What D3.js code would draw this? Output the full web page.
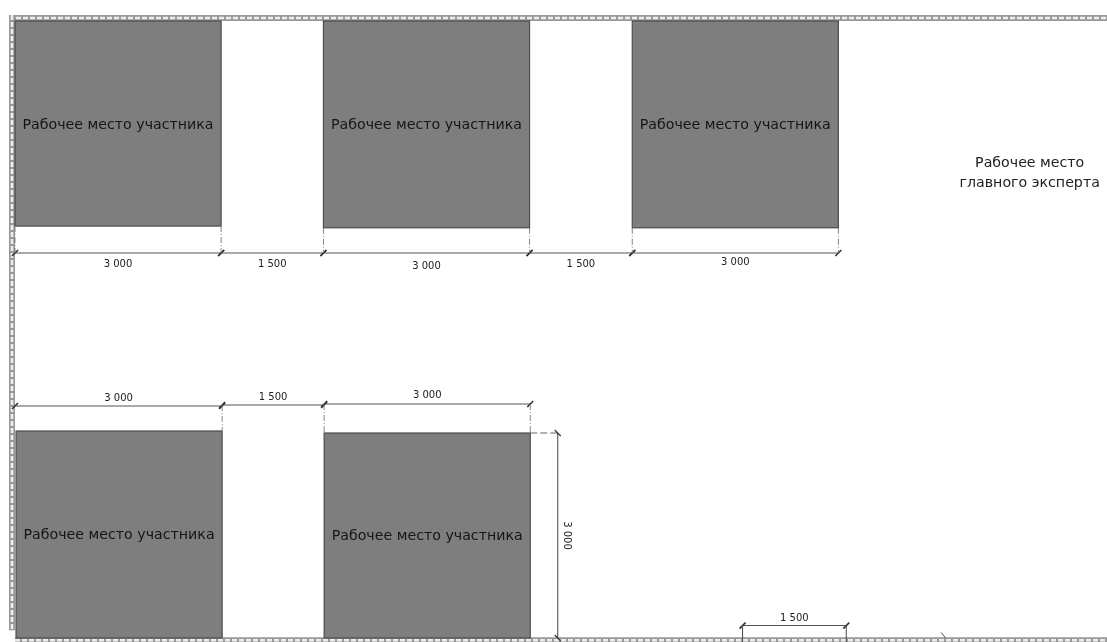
<!DOCTYPE html>
<html>
<head>
<meta charset="utf-8">
<script src="https://cdn.jsdelivr.net/npm/d3@7"></script>
<style>
html, body { margin: 0; padding: 0; background: #fff; }
svg { display: block; }
text { font-family: "DejaVu Sans", sans-serif; }
</style>
</head>
<body>
<svg id="plan"></svg>
<script>
//plan values, all in mm
var stationX = [0, 4490, 8985, 15, 4500];
var stationY = [0, 0, 0, 5968, 5997];
var stationW = [3000, 3000, 3000, 3000, 3000];
var stationH = [2985, 3010, 3010, 3013, 2984];
var stationName = "Рабочее место участника";
var expertName = ["Рабочее место", "главного эксперта"];
var expertX = 14770;
var expertY = [2125, 2416];

var dimStart = [0, 3000, 4490, 7490, 8985, 0, 3015, 4500, 10590];
var dimEnd = [3000, 4490, 7490, 8985, 11985, 3015, 4500, 7500, 12100];
var dimY = [3377, 3377, 3377, 3377, 3377, 5604, 5590, 5575, 8800];
var dimValue = [3000, 1500, 3000, 1500, 3000, 3000, 1500, 3000, 1500];
var dimLabelY = [3530, 3530, 3565, 3530, 3515, 5490, 5475, 5450, 8685];

var sideX = 7900;
var sideTop = 5997;
var sideBottom = 8981;
var sideValue = 3000;

//layout conf.
var svgWidth = 1107,
    svgHeight = 642,
    origin = {x: 15, y: 21},
    mmScale = 0.0687;

var x = d3.scaleLinear().domain([0, 16000]).range([origin.x, origin.x + 16000*mmScale]);
var y = d3.scaleLinear().domain([0, 9000]).range([origin.y, origin.y + 9000*mmScale]);

var spaced = d3.formatLocale({decimal: ",", thousands: " ", grouping: [3], currency: ["", ""]}).format(",");

var svg = d3.select("#plan")
    .attr("width", svgWidth)
    .attr("height", svgHeight);

//the source is a soft scan, a small blur brings the edges closer
svg.append("defs").append("filter")
    .attr("id", "soft")
    .append("feGaussianBlur")
    .attr("stdDeviation", 0.55);

var drawing = svg.append("g").attr("filter", "url(#soft)");

drawWalls();
drawStations();
drawDimensions();
drawSideDimension();
drawExpert();

function drawWalls() {
    var walls = drawing.append("g").classed("walls", true);
    var top = y(0) - 3;
    var left = x(0) - 3;
    var bottom = y(8985) + 2;

    wall(walls, left - 3, top, svgWidth, top);
    wall(walls, left, top - 3, left, y(8870));
    wall(walls, x(0), bottom, svgWidth, bottom);
}

function wall(parent, x1, y1, x2, y2) {
    parent.append("line")
        .attr("x1", x1).attr("y1", y1).attr("x2", x2).attr("y2", y2)
        .attr("stroke", "#999")
        .attr("stroke-width", 6);
    parent.append("line")
        .attr("x1", x1).attr("y1", y1).attr("x2", x2).attr("y2", y2)
        .attr("stroke", "#eee")
        .attr("stroke-width", 2.6)
        .attr("stroke-dasharray", "5 2");
}

function drawStations() {
    var stations = drawing.append("g").classed("stations", true)
        .selectAll("g")
        .data(stationX)
        .enter()
        .append("g");

    stations.append("rect")
        .attr("x", function(d){ return x(d); })
        .attr("y", function(d, i){ return y(stationY[i]); })
        .attr("width", function(d, i){ return x(stationW[i]) - x(0); })
        .attr("height", function(d, i){ return y(stationH[i]) - y(0); })
        .attr("fill", "#7e7e7e")
        .attr("stroke", "#4d4d4d")
        .attr("stroke-width", 1.2);

    stations.append("text")
        .attr("x", function(d, i){ return x(d + stationW[i]/2); })
        .attr("y", function(d, i){ return y(stationY[i] + stationH[i]/2) + 5; })
        .attr("text-anchor", "middle")
        .attr("font-size", 14.2)
        .attr("fill", "#161616")
        .text(stationName);
}

function drawDimensions() {
    var dims = drawing.append("g").classed("dimensions", true)
        .selectAll("g")
        .data(dimStart)
        .enter()
        .append("g");

    dims.append("line")
        .attr("x1", function(d){ return x(d); })
        .attr("x2", function(d, i){ return x(dimEnd[i]); })
        .attr("y1", function(d, i){ return y(dimY[i]); })
        .attr("y2", function(d, i){ return y(dimY[i]); })
        .attr("stroke", "#555")
        .attr("stroke-width", 1.1);

    //the slash marks on both ends
    [dimStart, dimEnd].forEach(function(ends) {
        dims.append("line")
            .attr("x1", function(d, i){ return x(ends[i]) - 3; })
            .attr("x2", function(d, i){ return x(ends[i]) + 3; })
            .attr("y1", function(d, i){ return y(dimY[i]) + 3; })
            .attr("y2", function(d, i){ return y(dimY[i]) - 3; })
            .attr("stroke", "#333")
            .attr("stroke-width", 1.6);
    });

    dims.append("text")
        .attr("x", function(d, i){ return x((d + dimEnd[i])/2); })
        .attr("y", function(d, i){ return y(dimLabelY[i]) + 3; })
        .attr("text-anchor", "middle")
        .attr("font-size", 10)
        .attr("fill", "#222")
        .text(function(d, i){ return spaced(dimValue[i]); });

    //dashed extension lines between the desks and the dimension lines
    var extTop = [0, 3000, 4490, 7490, 8985, 11985];
    var extFrom = [2985, 2985, 3010, 3010, 3010, 3010];
    drawing.append("g").selectAll("line")
        .data(extTop)
        .enter()
        .append("line")
        .attr("x1", function(d){ return x(d); })
        .attr("x2", function(d){ return x(d); })
        .attr("y1", function(d, i){ return y(extFrom[i]); })
        .attr("y2", y(3377))
        .attr("stroke", "#777")
        .attr("stroke-dasharray", "6 2 1 2")
        .attr("stroke-width", 0.9);

    var extLow = [3015, 4500, 7500];
    var extLowTop = [5590, 5575, 5575];
    drawing.append("g").selectAll("line")
        .data(extLow)
        .enter()
        .append("line")
        .attr("x1", function(d){ return x(d); })
        .attr("x2", function(d){ return x(d); })
        .attr("y1", function(d, i){ return y(extLowTop[i]); })
        .attr("y2", y(5997))
        .attr("stroke", "#777")
        .attr("stroke-dasharray", "6 2 1 2")
        .attr("stroke-width", 0.9);

    //opening under the small 1 500 mark
    drawing.append("g").selectAll("line")
        .data([10590, 12100])
        .enter()
        .append("line")
        .attr("x1", function(d){ return x(d); })
        .attr("x2", function(d){ return x(d); })
        .attr("y1", y(8800))
        .attr("y2", svgHeight)
        .attr("stroke", "#555")
        .attr("stroke-width", 1.1);

    //small notch further along the bottom wall
    drawing.append("line")
        .attr("x1", x(13480)).attr("x2", x(13550))
        .attr("y1", y(8900)).attr("y2", y(8985))
        .attr("stroke", "#555")
        .attr("stroke-width", 1);
}

function drawSideDimension() {
    var side = drawing.append("g").classed("side-dimension", true);

    side.append("line")
        .attr("x1", x(sideX)).attr("x2", x(sideX))
        .attr("y1", y(sideTop)).attr("y2", y(sideBottom))
        .attr("stroke", "#555")
        .attr("stroke-width", 1.1);

    side.append("line")
        .attr("x1", x(7500)).attr("x2", x(sideX))
        .attr("y1", y(sideTop)).attr("y2", y(sideTop))
        .attr("stroke", "#555")
        .attr("stroke-dasharray", "7 3")
        .attr("stroke-width", 0.9);

    [sideTop, sideBottom].forEach(function(v) {
        side.append("line")
            .attr("x1", x(sideX) - 3).attr("x2", x(sideX) + 3)
            .attr("y1", y(v) - 3).attr("y2", y(v) + 3)
            .attr("stroke", "#333")
            .attr("stroke-width", 1.2);
    });

    side.append("text")
        .attr("transform", "translate(" + [x(sideX) + 6, y((sideTop + sideBottom)/2)] + ") rotate(90)")
        .attr("text-anchor", "middle")
        .attr("font-size", 10)
        .attr("fill", "#222")
        .text(spaced(sideValue));
}

function drawExpert() {
    drawing.append("g").classed("expert", true)
        .selectAll("text")
        .data(expertName)
        .enter()
        .append("text")
        .attr("x", x(expertX))
        .attr("y", function(d, i){ return y(expertY[i]); })
        .attr("text-anchor", "middle")
        .attr("font-size", 14.2)
        .attr("fill", "#222")
        .text(function(d){ return d; });
}
</script>
</body>
</html>
